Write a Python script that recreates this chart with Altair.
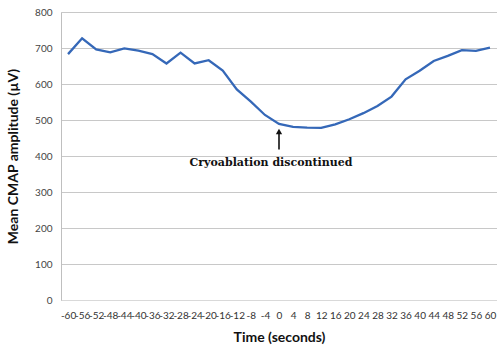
import altair as alt
import pandas as pd

times = list(range(-60, 61, 4))
cmap = [683, 727, 696, 688, 699, 693, 683, 657, 687, 657, 666, 637, 585, 551,
        514, 489, 481, 479, 478, 488, 502, 519, 539, 565, 613, 637, 664, 678,
        694, 692, 701]
y_ticks = list(range(0, 801, 100))
annot_time = [0]
annot_text = ["Cryoablation discontinued"]

df = pd.DataFrame({"t": times, "v": cmap})
ann = pd.DataFrame({"t": annot_time, "y0": [418], "y1": [468], "tip": [468],
                    "ty": [380], "label": annot_text})

xscale = alt.Scale(type="point", padding=0.5, domain=times)
yscale = alt.Scale(domain=[0, 800])

xaxis = alt.Axis(title="Time (seconds)", labelAngle=0, labelFontSize=10,
                 labelFont="Lato", labelColor="#333333", labelOverlap=False,
                 labelPadding=10, ticks=False, domainColor="#d9d9d9",
                 titleFont="Lato", titleFontSize=14, titleFontWeight="bold",
                 titleColor="#111111", titlePadding=10, grid=False,
                 labelBound=False)
yaxis = alt.Axis(title="Mean CMAP amplitude (µV)", values=y_ticks,
                 labelFontSize=10, labelFont="Lato", labelColor="#444444",
                 labelOverlap=False, tickCount=9,
                 ticks=False, labelPadding=9, domainColor="#bfbfbf",
                 gridColor="#c8c8c8", titleFont="Lato", titleFontSize=14,
                 titleFontWeight="bold", titleColor="#111111",
                 titlePadding=14)

X = alt.X("t:O", scale=xscale, sort=times, axis=xaxis)

line = alt.Chart(df).mark_line(color="#3568b8", strokeWidth=2.3).encode(
    x=X,
    y=alt.Y("v:Q", scale=yscale, axis=yaxis),
)

rule = alt.Chart(ann).mark_rule(color="#111111", strokeWidth=1.6).encode(
    x=X,
    y=alt.Y("y0:Q", scale=yscale, axis=yaxis),
    y2="y1:Q",
)
head = alt.Chart(ann).mark_point(shape="triangle-up", filled=True, color="#111111",
                                 size=40, opacity=1).encode(
    x=X,
    y=alt.Y("tip:Q", scale=yscale, axis=yaxis),
)
text = alt.Chart(ann).mark_text(font="DejaVu Serif", fontSize=11, fontWeight="bold",
                                color="#111111", dx=-8, baseline="middle").encode(
    x=X,
    y=alt.Y("ty:Q", scale=yscale, axis=yaxis),
    text="label:N",
)

chart = alt.layer(line, rule, head, text).properties(
    width=436, height=288,
    autosize=alt.AutoSizeParams(type="none"),
    padding={"left": 61, "top": 12, "right": 0, "bottom": 53},
).configure_view(stroke=None).configure(background="white")

chart.save("out.html", embed_options={"renderer": "svg", "actions": False})
